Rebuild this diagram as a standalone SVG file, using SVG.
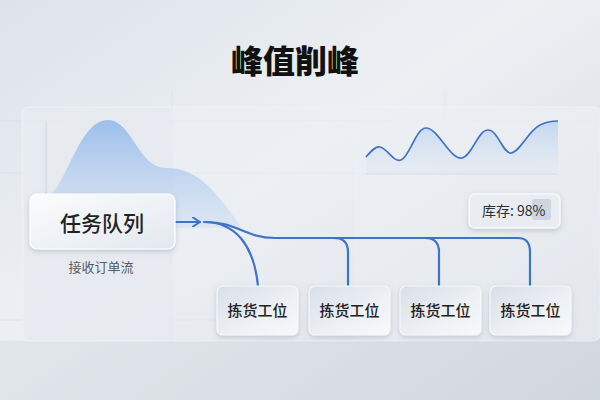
<svg xmlns="http://www.w3.org/2000/svg" width="600" height="400" viewBox="0 0 600 400">
<defs>
<linearGradient id="bg" x1="0" y1="0" x2="1" y2="1">
<stop offset="0" stop-color="#dde3ea"/><stop offset="0.45" stop-color="#edf0f3"/><stop offset="1" stop-color="#cfd5dc"/>
</linearGradient>
<linearGradient id="panel" x1="0" y1="0" x2="1" y2="1">
<stop offset="0" stop-color="#eef1f5" stop-opacity="0.6"/><stop offset="1" stop-color="#e6eaef" stop-opacity="0.5"/>
</linearGradient>
<linearGradient id="peak" x1="0" y1="0" x2="0" y2="1">
<stop offset="0" stop-color="#8fb6ea" stop-opacity="0.85"/><stop offset="1" stop-color="#c4d9f2" stop-opacity="0.4"/>
</linearGradient>
<linearGradient id="wave" x1="0" y1="0" x2="0" y2="1">
<stop offset="0" stop-color="#b9d1f0" stop-opacity="0.8"/><stop offset="1" stop-color="#dfe8f3" stop-opacity="0.3"/>
</linearGradient>
<linearGradient id="node" x1="0" y1="0" x2="1" y2="1">
<stop offset="0" stop-color="#fbfcfd"/><stop offset="1" stop-color="#e3e8ee"/>
</linearGradient>
<linearGradient id="station" x1="0" y1="0" x2="1" y2="1">
<stop offset="0" stop-color="#d9e0e8"/><stop offset="0.6" stop-color="#eef1f5"/><stop offset="1" stop-color="#f7f9fb"/>
</linearGradient>
<filter id="sh" x="-20%" y="-20%" width="140%" height="150%">
<feDropShadow dx="0" dy="2" stdDeviation="2.5" flood-color="#6a7888" flood-opacity="0.3"/>
</filter>
<marker id="chev" viewBox="0 0 10 10" refX="8" refY="5" markerWidth="10" markerHeight="10" markerUnits="userSpaceOnUse" orient="auto">
<path d="M1,0.5 L8,5 L1,9.5" fill="none" stroke="#3f72c8" stroke-width="2" stroke-linecap="round" stroke-linejoin="round"/>
</marker>
<style>
.t{font-family:"Noto Sans CJK SC","Noto Sans",sans-serif;fill:#1f2328}
.box{fill:url(#node);stroke:#ffffff;stroke-width:1.2;filter:url(#sh)}
.st{fill:url(#station);stroke:#f6f8fa;stroke-width:1.2;filter:url(#sh)}
.ln{fill:none;stroke:#3f72c8;stroke-width:2.2;stroke-linecap:round}
.grid{stroke:#d3d9e0;stroke-width:1}
</style>
</defs>
<rect width="600" height="400" fill="url(#bg)"/>
<rect x="0" y="341" width="600" height="59" fill="#d3d9e0" opacity="0.45"/>
<g class="grid">
<line x1="0" y1="121" x2="600" y2="121" opacity="0.5"/>
<line x1="0" y1="173" x2="600" y2="173" opacity="0.5"/>
<line x1="0" y1="320" x2="600" y2="320" opacity="0.6"/>
<line x1="172" y1="90" x2="172" y2="341" opacity="0.5"/>
<line x1="445" y1="90" x2="445" y2="341" opacity="0.4"/>
</g>
<rect x="22" y="107" width="578" height="234" rx="6" fill="url(#panel)" stroke="#f1f3f6" stroke-width="1" stroke-opacity="0.7"/>
<rect x="24" y="108" width="148" height="232" rx="6" fill="#e5eaf0" opacity="0.7"/>
<rect x="355" y="107" width="245" height="233" rx="6" fill="#edf0f4" opacity="0.45" stroke="#f3f5f8" stroke-opacity="0.8"/>
<line x1="46" y1="121" x2="46" y2="198" stroke="#c9d3de" stroke-width="1"/>
<path d="M46,198 C66,190 78,120 108,120 C132,120 138,168 166,168 C196,168 212,186 242,228 L46,228 Z" fill="url(#peak)"/>
<path d="M366,174 L366,157 C372,150 376,146 380,147 C388,149 394,163 401,160 C410,156 416,128 426,128 C438,128 450,160 462,158 C472,156 478,130 488,130 C498,130 503,154 511,153 C520,152 528,131 540,125 C548,121 553,121 558,121 L558,174 Z" fill="url(#wave)"/>
<path d="M366,157 C372,150 376,146 380,147 C388,149 394,163 401,160 C410,156 416,128 426,128 C438,128 450,160 462,158 C472,156 478,130 488,130 C498,130 503,154 511,153 C520,152 528,131 540,125 C548,121 553,121 558,121" fill="none" stroke="#4373c6" stroke-width="1.7"/>
<line x1="366" y1="174" x2="558" y2="174" stroke="#d6dde6" stroke-width="1"/>
<text class="t" x="295" y="73" font-size="32" font-weight="900" text-anchor="middle" style="fill:#111">峰值削峰</text>
<g id="connectors">
<path class="ln" d="M174,222 H200" marker-end="url(#chev)"/>
<path class="ln" d="M204,222 C236,222 254,246 258,286"/>
<path class="ln" d="M206,222 C238,222 244,238 275,238 H518 Q530,238 530,252 V286" stroke-width="2"/>
<path class="ln" d="M334,238 Q348,238 348,252 V286" stroke-width="2"/>
<path class="ln" d="M425,238 Q439,238 439,252 V286" stroke-width="2"/>
</g>
<g id="queue">
<rect class="box" x="30" y="194" width="145" height="55" rx="7"/>
<text class="t" x="102" y="231" font-size="21" font-weight="500" text-anchor="middle">任务队列</text>
<text class="t" x="101" y="272" font-size="13" text-anchor="middle" style="fill:#555b63">接收订单流</text>
</g>
<g id="inventory">
<rect x="469" y="194" width="91" height="34" rx="6" fill="#e9edf2" stroke="#f7f9fb" stroke-width="1.5" filter="url(#sh)"/>
<rect x="532" y="199" width="19" height="21" rx="2" fill="#cfd6df"/>
<text class="t" x="482" y="216" font-size="14" style="fill:#2b3038">库存: 98%</text>
</g>
<g id="station1"><rect class="st" x="217" y="286" width="81" height="49" rx="6"/><text class="t" x="257.5" y="316" font-size="15" font-weight="500" text-anchor="middle">拣货工位</text></g>
<g id="station2"><rect class="st" x="309" y="286" width="81" height="49" rx="6"/><text class="t" x="349.5" y="316" font-size="15" font-weight="500" text-anchor="middle">拣货工位</text></g>
<g id="station3"><rect class="st" x="400" y="286" width="81" height="49" rx="6"/><text class="t" x="440.5" y="316" font-size="15" font-weight="500" text-anchor="middle">拣货工位</text></g>
<g id="station4"><rect class="st" x="490" y="286" width="81" height="49" rx="6"/><text class="t" x="530.5" y="316" font-size="15" font-weight="500" text-anchor="middle">拣货工位</text></g>
</svg>
